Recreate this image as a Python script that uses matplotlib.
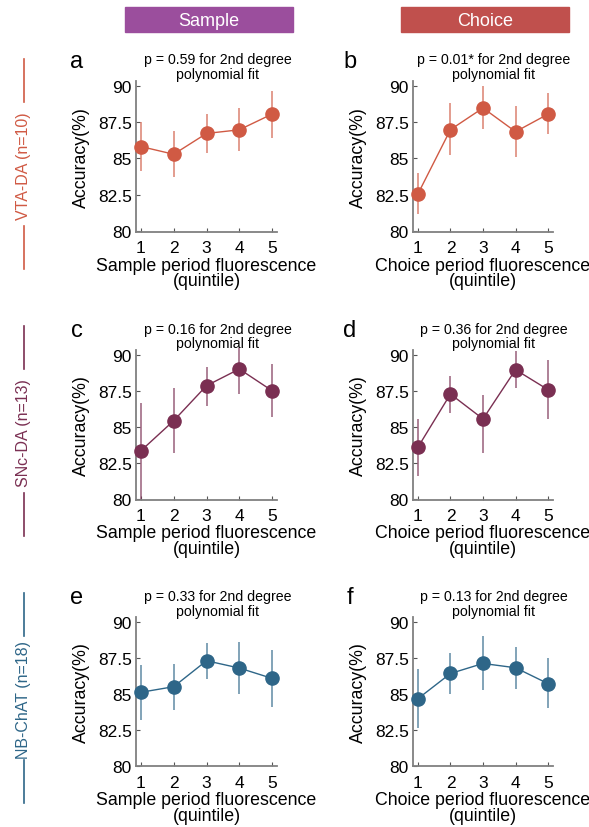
import numpy as np
import matplotlib.pyplot as plt
from matplotlib.lines import Line2D
from matplotlib.patches import Rectangle

plt.rcParams['font.family'] = ['Liberation Sans', 'DejaVu Sans']

# quintiles on x
quintiles = [1, 2, 3, 4, 5]
y_ticks = [80, 82.5, 85, 87.5, 90]
y_tick_labels = ['80', '82.5', '85', '87.5', '90']

# panel letters and p-values
letters = ['a', 'b', 'c', 'd', 'e', 'f']
p_texts = ['p = 0.59', 'p = 0.01*', 'p = 0.16', 'p = 0.36', 'p = 0.33', 'p = 0.13']
col_names = ['Sample', 'Choice']
row_names = ['VTA-DA (n=10)', 'SNc-DA (n=13)', 'NB-ChAT (n=18)']

# mean accuracy and error bar ends, per panel (a..f)
means_a = [85.82, 85.29, 86.72, 86.97, 88.05]
upper_a = [87.48, 86.90, 88.05, 88.46, 89.66]
lower_a = [84.15, 83.70, 85.36, 85.52, 86.44]

means_b = [82.56, 86.98, 88.47, 86.84, 88.05]
upper_b = [84.00, 88.81, 89.96, 88.63, 89.50]
lower_b = [81.18, 85.24, 87.00, 85.08, 86.68]

means_c = [83.35, 85.44, 87.87, 89.03, 87.52]
upper_c = [86.67, 87.69, 89.20, 90.46, 89.38]
lower_c = [79.90, 83.19, 86.44, 87.29, 85.67]

means_d = [83.59, 87.29, 85.56, 88.98, 87.59]
upper_d = [85.56, 88.52, 87.22, 90.30, 89.65]
lower_d = [81.62, 85.97, 83.19, 87.69, 85.56]

means_e = [85.12, 85.51, 87.32, 86.81, 86.09]
upper_e = [87.02, 87.09, 88.56, 88.60, 88.09]
lower_e = [83.20, 83.90, 86.04, 85.00, 84.07]

means_f = [84.67, 86.43, 87.13, 86.83, 85.72]
upper_f = [86.71, 87.84, 89.06, 88.28, 87.54]
lower_f = [82.60, 85.02, 85.25, 85.35, 84.01]

panels = [(means_a, upper_a, lower_a), (means_b, upper_b, lower_b),
          (means_c, upper_c, lower_c), (means_d, upper_d, lower_d),
          (means_e, upper_e, lower_e), (means_f, upper_f, lower_f)]

row_colors = ['#d05a44', '#7a2f52', '#2e6688']
banner_colors = ['#9b4e9d', '#c0504d']

W, H = 589, 828
fig = plt.figure(figsize=(W / 100, H / 100), dpi=100)

def fx(px):
    return px / W

def fy(py):
    return 1 - py / H

# axes boxes in pixels: left, top, right, bottom
col_left = [136, 413]
col_right = [277, 553]
row_top = [81.6, 351, 618.3]
row_bottom = [233, 500.7, 767.4]

for i in range(6):
    r, c = divmod(i, 2)
    m, up, lo = panels[i]
    m = np.array(m)
    yerr = [m - np.array(lo), np.array(up) - m]
    col = row_colors[r]
    ax = fig.add_axes([fx(col_left[c]), fy(row_bottom[r]),
                       fx(col_right[c] - col_left[c]), (row_bottom[r] - row_top[r]) / H])
    ax.errorbar(quintiles, m, yerr=yerr, fmt='none', ecolor=col, elinewidth=1.2,
                alpha=0.7, clip_on=False, zorder=2)
    ax.plot(quintiles, m, '-', color=col, lw=1.0, zorder=3, clip_on=False)
    ax.plot(quintiles, m, 'o', color=col, ms=9.5, zorder=4, clip_on=False)
    ax.set_xlim(0.85, 5.15)
    ax.set_ylim(79.95, 90.35)
    ax.set_xticks(quintiles)
    ax.set_yticks(y_ticks)
    ax.set_yticklabels(y_tick_labels)
    for s in ['top', 'right']:
        ax.spines[s].set_visible(False)
    for s in ['left', 'bottom']:
        ax.spines[s].set_color('#808080')
        ax.spines[s].set_linewidth(1.3)
    ax.tick_params(direction='in', length=3, width=0.8, color='#555555',
                   labelsize=12.5)
    ax.tick_params(axis='y', pad=3)
    ax.tick_params(axis='x', pad=6)
    ax.set_ylabel('Accuracy(%)', fontsize=12.8, labelpad=6)
    ax.set_xlabel(col_names[c] + ' period fluorescence\n(quintile)', fontsize=12.8,
                  labelpad=1, linespacing=0.9)
    cx = (col_left[c] + col_right[c]) / 2 + 11
    fig.text(fx(cx), fy(row_top[r] - 14), p_texts[i] + ' for 2nd degree\npolynomial fit',
             ha='center', va='center', fontsize=10.2, linespacing=1.05)
    fig.text(fx([77, 350][c]), fy(row_top[r] - 20), letters[i], ha='center',
             va='center', fontsize=17)

# column banners
for c, (x0, x1) in enumerate([(125, 293), (401, 569)]):
    fig.add_artist(Rectangle((fx(x0), fy(33)), fx(x1 - x0), 25 / H,
                             transform=fig.transFigure, color=banner_colors[c]))
    fig.text(fx((x0 + x1) / 2), fy(21), col_names[c], color='white', fontsize=13,
             ha='center', va='center')

# row labels with lines
row_centers = [166, 433, 700]
for r in range(3):
    yc = row_centers[r]
    col = row_colors[r]
    fig.text(fx(24), fy(yc), row_names[r], rotation=90, color=col, fontsize=11.5,
             ha='center', va='center')
    fig.add_artist(Line2D([fx(24), fx(24)], [fy(yc - 106), fy(yc - 63)],
                          color=col, lw=1.2, transform=fig.transFigure))
    fig.add_artist(Line2D([fx(24), fx(24)], [fy(yc + 61), fy(yc + 104)],
                          color=col, lw=1.2, transform=fig.transFigure))

fig.savefig('out.png', dpi=100)
